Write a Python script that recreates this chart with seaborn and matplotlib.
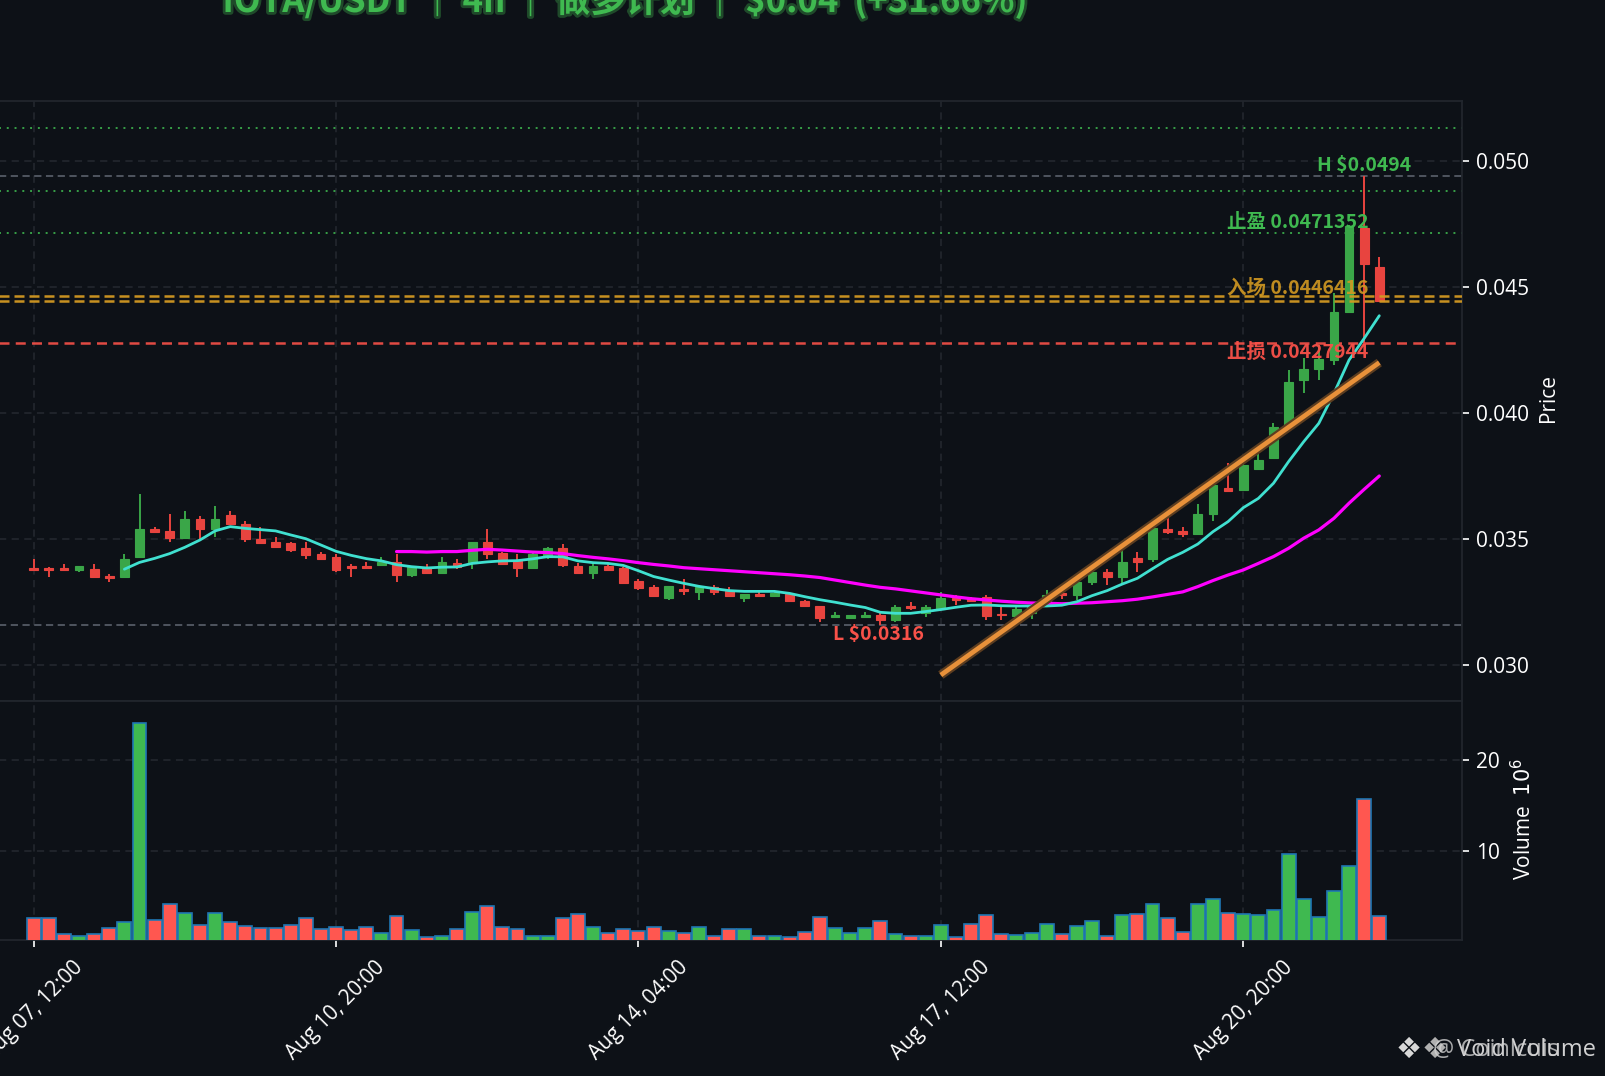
# IOTA/USDT 4h long plan chart: candles, EMAs, levels and volume
import matplotlib
matplotlib.use("Agg")
import matplotlib.pyplot as plt
import matplotlib.patheffects as pe
import numpy as np
import pandas as pd
import seaborn as sns

BG = "#0d1117"
GRID = "#21262d"
GREEN = "#3fb950"
RED = "#f85149"
ORANGE = "#d29922"
BOLD = ["Noto Sans CJK SC", "DejaVu Sans"]

tick_pos = [0, 20, 40, 60, 80]
tick_labels = ["Aug 07, 12:00", "Aug 10, 20:00", "Aug 14, 04:00", "Aug 17, 12:00", "Aug 20, 20:00"]

opens = [.03385, .03385, .03385, .03378, .03382, .03353, .03348, .03427, .03541, .03530,
         .03505, .03581, .03538, .03594, .03561, .03501, .03489, .03483, .03463, .03442,
         .03430, .03394, .03392, .03398, .03410, .03358, .03386, .03366, .03403, .03406,
         .03489, .03443, .03413, .03386, .03427, .03463, .03392, .03366, .03393, .03384,
         .03332, .03311, .03267, .03302, .03288, .03311, .03294, .03267, .03282, .03274,
         .03280, .03253, .03233, .03189, .03188, .03189, .03200, .03177, .03235, .03208,
         .03222, .03265, .03265, .03271, .03202, .03196, .03208, .03247, .03284, .03276,
         .03328, .03370, .03348, .03423, .03419, .03541, .03530, .03519, .03598, .03701,
         .03696, .03776, .03820, .03939, .04131, .04176, .04210, .04400, .04733, .04581]
closes = [.03378, .03378, .03378, .03392, .03348, .03347, .03422, .03541, .03526, .03505,
          .03581, .03538, .03581, .03558, .03499, .03485, .03467, .03458, .03438, .03419,
          .03378, .03386, .03386, .03407, .03358, .03390, .03366, .03410, .03388, .03489,
          .03439, .03399, .03386, .03440, .03463, .03398, .03366, .03392, .03378, .03327,
          .03307, .03275, .03312, .03295, .03311, .03288, .03275, .03280, .03275, .03284,
          .03255, .03235, .03188, .03200, .03200, .03200, .03177, .03231, .03228, .03231,
          .03267, .03257, .03255, .03196, .03198, .03221, .03234, .03278, .03276, .03331,
          .03370, .03348, .03410, .03407, .03542, .03526, .03519, .03601, .03713, .03689,
          .03792, .03812, .03943, .04122, .04173, .04213, .04402, .04740, .04590, .04446]
highs = [.03421, .03388, .03401, .03392, .03401, .03361, .03440, .03679, .03546, .03599,
         .03611, .03590, .03631, .03611, .03570, .03546, .03507, .03487, .03487, .03447,
         .03439, .03401, .03409, .03427, .03442, .03391, .03401, .03427, .03421, .03489,
         .03540, .03447, .03440, .03443, .03467, .03480, .03403, .03403, .03403, .03390,
         .03340, .03317, .03312, .03340, .03317, .03317, .03308, .03283, .03291, .03295,
         .03287, .03258, .03235, .03209, .03200, .03209, .03205, .03237, .03249, .03237,
         .03288, .03276, .03271, .03276, .03229, .03229, .03247, .03298, .03304, .03344,
         .03380, .03381, .03463, .03447, .03556, .03619, .03546, .03639, .03728, .03800,
         .03807, .03847, .03960, .04171, .04218, .04270, .04475, .04746, .04940, .04619]
lows = [.03373, .03351, .03373, .03370, .03347, .03331, .03347, .03427, .03522, .03489,
        .03501, .03501, .03509, .03554, .03489, .03485, .03466, .03450, .03422, .03418,
        .03370, .03351, .03382, .03398, .03331, .03351, .03366, .03366, .03382, .03382,
        .03422, .03399, .03351, .03386, .03421, .03390, .03366, .03341, .03377, .03327,
        .03298, .03271, .03258, .03278, .03258, .03278, .03274, .03251, .03275, .03271,
        .03251, .03231, .03172, .03188, .03181, .03188, .03159, .03172, .03217, .03192,
        .03218, .03238, .03251, .03179, .03179, .03192, .03181, .03242, .03261, .03258,
        .03317, .03317, .03327, .03369, .03409, .03521, .03508, .03519, .03571, .03688,
        .03692, .03776, .03820, .03933, .04081, .04131, .04190, .04400, .04270, .04446]

ema_fast = [.03380, .03407, .03423, .03442, .03467, .03496, .03532, .03549, .03542, .03537,
            .03532, .03516, .03501, .03476, .03451, .03435, .03422, .03413, .03398, .03390,
            .03385, .03388, .03389, .03403, .03409, .03413, .03414, .03421, .03430, .03429,
            .03413, .03406, .03403, .03395, .03374, .03351, .03337, .03324, .03312, .03303,
            .03295, .03292, .03292, .03292, .03284, .03271, .03259, .03249, .03238, .03228,
            .03209, .03205, .03205, .03212, .03220, .03229, .03237, .03238, .03235, .03234,
            .03234, .03234, .03237, .03251, .03275, .03295, .03321, .03344, .03382, .03419,
            .03447, .03480, .03529, .03569, .03624, .03661, .03721, .03807, .03886, .03959,
            .04078, .04210, .04296, .04386]
ema_slow = [.03450, .03450, .03448, .03450, .03450, .03455, .03459, .03456, .03452, .03448,
            .03446, .03442, .03434, .03427, .03421, .03414, .03406, .03399, .03393, .03386,
            .03382, .03378, .03374, .03370, .03366, .03362, .03358, .03353, .03347, .03337,
            .03327, .03317, .03308, .03302, .03294, .03286, .03278, .03270, .03263, .03258,
            .03253, .03249, .03246, .03245, .03243, .03245, .03247, .03251, .03255, .03261,
            .03270, .03280, .03290, .03311, .03335, .03357, .03377, .03403, .03430, .03463,
            .03503, .03536, .03582, .03642, .03697, .03750]

volume = [2.54, 2.54, .78, .56, .78, 1.45, 2.11, 24.05, 2.33, 4.09,
          3.10, 1.78, 3.10, 2.11, 1.67, 1.45, 1.45, 1.78, 2.54, 1.33,
          1.56, 1.22, 1.56, .89, 2.77, 1.22, .45, .56, 1.33, 3.21,
          3.87, 1.62, 1.33, .60, .60, 2.55, 2.99, 1.62, .89, 1.33,
          1.11, 1.62, 1.11, .89, 1.62, .56, 1.40, 1.40, .63, .63,
          .52, 1.00, 2.66, 1.51, .89, 1.51, 2.22, .78, .63, .63,
          1.78, .52, 1.89, 2.88, .85, .74, .89, 1.88, .85, 1.73,
          2.28, .63, 2.88, 3.05, 4.16, 2.61, 1.07, 4.16, 4.71, 3.16,
          3.05, 2.88, 3.50, 9.67, 4.71, 2.72, 5.59, 8.35, 15.73, 2.83]

trend_x = [60, 89]
trend_y = [.0296, .0420]
target_levels = [.05131, .04881, .0471352]
entry_levels = [.04464, .04443]
stop_level = .0427944
high_level = .0494
low_level = .0316

df = pd.DataFrame({"i": np.arange(len(opens)), "open": opens, "high": highs,
                   "low": lows, "close": closes, "volume": volume})
df["dir"] = np.where(df["close"] >= df["open"], "up", "down")

sns.set_theme(style="dark")
plt.rcParams["font.family"] = ["Open Sans", "Noto Sans CJK SC", "DejaVu Sans"]
plt.rcParams["axes.unicode_minus"] = False

W, H = 1605, 1076
fig = plt.figure(figsize=(W / 100, H / 100), dpi=100, facecolor=BG)
left = -20 / W
width = 1482 / W
ax = fig.add_axes([left, 1 - 701 / H, width, 600 / H], facecolor=BG)
axv = fig.add_axes([left, 1 - 940 / H, width, 239 / H], facecolor=BG, sharex=ax)

# candles
cols = df["dir"].map({"up": "#3aa648", "down": "#e8443f"})
ax.vlines(df["i"], df["low"], df["high"], colors=cols, lw=1.4, zorder=2)
ax.bar(df["i"], (df["close"] - df["open"]).abs(), bottom=df[["open", "close"]].min(axis=1),
       width=0.58, color=cols, edgecolor=cols, lw=0.8, zorder=3)

# emas
sns.lineplot(x=df["i"][6:], y=ema_fast, ax=ax, color="#40e0d0", lw=2.0, zorder=5, errorbar=None)
sns.lineplot(x=df["i"][24:], y=ema_slow, ax=ax, color="#ff00ff", lw=2.3, zorder=4, errorbar=None)

# levels
ax.axhline(high_level, color="#555b65", lw=1.3, ls=(0, (4, 2.5)), zorder=1)
ax.axhline(low_level, color="#555b65", lw=1.3, ls=(0, (4, 2.5)), zorder=1)
for lv in target_levels:
    ax.axhline(lv, color=GREEN, lw=1.4, ls=(0, (1, 3)), alpha=0.85, zorder=1)
for lv in entry_levels:
    ax.axhline(lv, color=ORANGE, lw=1.8, ls=(0, (4, 2)), alpha=0.95, zorder=6)
ax.axhline(stop_level, color=RED, lw=1.8, ls=(0, (4, 2.5)), alpha=0.9, zorder=1)

# trend line
sns.lineplot(x=trend_x, y=trend_y, ax=ax, color="#e8913a", lw=3.4, zorder=6, errorbar=None,
             path_effects=[pe.Stroke(linewidth=6.5, foreground="#5c3d20"), pe.Normal()],
             solid_capstyle="butt")

# labels
lab = dict(fontsize=14, fontweight="bold", family=BOLD, zorder=8)
ax.text(88.0, .04981, "H $0.0494", color=GREEN, ha="center", va="center", **lab)
ax.text(55.9, .03119, "L $0.0316", color=RED, ha="center", va="center", **lab)
ax.text(88.3, .04754, "止盈 0.0471352", color=GREEN, ha="right", va="center", **lab)
ax.text(88.3, .04492, "入场 0.0446416", color=ORANGE, ha="right", va="center", alpha=0.9, **lab)
ax.text(88.3, .04240, "止损 0.0427944", color=RED, ha="right", va="center", alpha=0.95, **lab)

# volume
sns.barplot(data=df, x="i", y="volume", hue="dir", palette={"up": GREEN, "down": "#ff5750"},
            native_scale=True, dodge=False, legend=False, width=0.92, ax=axv, saturation=1,
            edgecolor="#1f77b4", linewidth=1.2, zorder=3)

ax.set_xlim(-3.55, 94.47)
ax.set_ylim(.02857, .05238)
axv.set_ylim(0.15, 26.5)

for a in (ax, axv):
    a.yaxis.tick_right()
    a.grid(True, color=GRID, ls=(0, (4, 3)), lw=1.3)
    a.set_axisbelow(True)
    a.set_xlabel("")
    a.set_ylabel("")
    for s in a.spines.values():
        s.set_color(GRID)
        s.set_linewidth(1.3)
    a.tick_params(axis="y", colors="white", labelsize=15, length=5, width=1.2, right=True, pad=5)
    a.tick_params(axis="x", colors="white", length=5, width=1.2)

ax.set_yticks([.030, .035, .040, .045, .050], ["0.030", "0.035", "0.040", "0.045", "0.050"])
ax.tick_params(axis="x", length=0, labelbottom=False)
axv.set_yticks([10, 20], ["10", "20"])
axv.set_xticks(tick_pos)
axv.set_xticklabels(tick_labels, rotation=45, ha="center", fontsize=15, color="white")
axv.tick_params(axis="x", bottom=True, pad=7)

fig.text(1549 / W, 1 - 398 / H, "Price", color="white", fontsize=15, rotation=90, ha="center", va="center")
fig.text(1524 / W, 1 - 819 / H, "Volume  $10^6$", color="white", fontsize=15, rotation=90, ha="center", va="center")

# title is cut by the top edge in the source image
fig.text(625 / W, 1 - 12 / H, "IOTA/USDT ｜ 4h ｜ 做多计划 ｜ $0.04  (+31.66%)", color=GREEN, fontsize=25,
         fontweight="bold", family=BOLD, ha="center", va="baseline",
         path_effects=[pe.withStroke(linewidth=4, foreground="#1f4a2a")])

# overlapped watermarks
fig.text(1396 / W, 1 - 1050 / H, "❖", color="#d8d8d8", fontsize=21, ha="left", va="center", family=["DejaVu Sans"])
fig.text(1422 / W, 1 - 1050 / H, "❖", color="#b0b0b0", fontsize=21, ha="left", va="center", family=["DejaVu Sans"])
fig.text(1596 / W, 1 - 1050 / H, "Void Volume", color="#e6e6e6", fontsize=17, ha="right", va="center", alpha=0.9)
fig.text(1433 / W, 1 - 1050 / H, "@ Coinlcuis", color="#d0d0d0", fontsize=17, ha="left", va="center", alpha=0.8)

fig.savefig("out.png", dpi=100, facecolor=BG)
